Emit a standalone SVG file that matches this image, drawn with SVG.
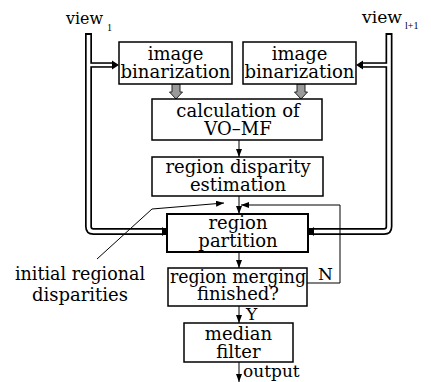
<svg xmlns="http://www.w3.org/2000/svg" width="431" height="382" viewBox="0 0 431 382">
<style>
.box{fill:#fff;stroke:#000;stroke-width:1.5}
.box2{fill:#fff;stroke:#000;stroke-width:2}
.t{font-family:"DejaVu Serif","Liberation Serif",serif;font-size:18px;fill:#000;text-anchor:middle}
.tl{font-family:"DejaVu Serif","Liberation Serif",serif;font-size:17px;fill:#000}
.tv{font-family:"DejaVu Serif","Liberation Serif",serif;font-size:16px;fill:#000}
.sub{font-family:"Liberation Serif","DejaVu Serif",serif;font-size:10px;fill:#000}
.ln{fill:none;stroke:#000;stroke-width:1}
.pb{fill:none;stroke:#000;stroke-width:7}
.pw{fill:none;stroke:#fff;stroke-width:3.6}
.bb{fill:none;stroke:#000;stroke-width:5.5}
.bw{fill:none;stroke:#fff;stroke-width:2.4}
.grey{fill:#9a9a9a;stroke:#222;stroke-width:1}
</style>
<defs>
<marker id="ah" markerUnits="userSpaceOnUse" markerWidth="8" markerHeight="6" refX="8" refY="3" orient="auto">
<path d="M0,0 L8,3 L0,6 z" fill="#000"/>
</marker>
</defs>
<rect width="431" height="382" fill="#fff"/>
<g id="connectors">
<path class="pb" d="M88.5,33 V226.5 Q88.5,231.5 93.5,231.5 H166"/>
<path class="bb" d="M88.5,65 H114"/>
<path class="pb" d="M389,33 V226.5 Q389,231.5 384,231.5 H309"/>
<path class="bb" d="M389,65 H360"/>
<path class="pw" d="M88.5,35 V226.5 Q88.5,231.5 93.5,231.5 H164"/>
<path class="bw" d="M88.5,65 H113"/>
<path class="pw" d="M389,35 V226.5 Q389,231.5 384,231.5 H311"/>
<path class="bw" d="M389,65 H361"/>
<path d="M112,60.5 L119,65 L112,69.5 z" fill="#000"/>
<path d="M363,60.5 L356,65 L363,69.5 z" fill="#000"/>
<path d="M162,227 L168,231.5 L162,236 z" fill="#000"/>
<path d="M314,227 L308,231.5 L314,236 z" fill="#000"/>
<path class="grey" d="M172,84 H180 V92 H182.5 L176,99 L169.5,92 H172 z"/>
<path class="grey" d="M297,84 H305 V92 H307.5 L301,99 L294.5,92 H297 z"/>
<path class="ln" d="M239,140 V157" marker-end="url(#ah)"/>
<path class="ln" d="M239,196 V214" marker-end="url(#ah)"/>
<path class="ln" d="M239,252 V268" marker-end="url(#ah)"/>
<path class="ln" d="M239,306 V323" marker-end="url(#ah)"/>
<path class="ln" d="M239,362 V382" marker-end="url(#ah)"/>
<path class="ln" d="M307,283 H340 V205 H241" marker-end="url(#ah)"/>
<path class="ln" d="M97,259 L152,209 L224,203" marker-end="url(#ah)"/>
</g>
<g id="view1"><text class="tv" x="66" y="24" textLength="37" lengthAdjust="spacingAndGlyphs">view</text><text class="sub" x="107" y="31">1</text></g>
<g id="viewl1"><text class="tv" x="362" y="23" textLength="40" lengthAdjust="spacingAndGlyphs">view</text><text class="sub" x="405" y="29">l+1</text></g>
<g id="bin1"><rect class="box" x="119" y="42" width="113" height="42"/><text class="t" x="175.5" y="60">image</text><text class="t" x="175.5" y="78" textLength="110" lengthAdjust="spacingAndGlyphs">binarization</text></g>
<g id="bin2"><rect class="box" x="243" y="42" width="113" height="42"/><text class="t" x="299.5" y="60">image</text><text class="t" x="299.5" y="78" textLength="110" lengthAdjust="spacingAndGlyphs">binarization</text></g>
<g id="calc"><rect class="box" x="152" y="99" width="170" height="41"/><text class="t" x="238" y="117">calculation of</text><text class="t" x="238" y="135">VO–MF</text></g>
<g id="disp"><rect class="box" x="152" y="157" width="171" height="39"/><text class="t" x="238" y="173">region disparity</text><text class="t" x="238" y="191">estimation</text></g>
<g id="part"><rect class="box2" x="167" y="214" width="141" height="38"/><text class="t" x="238" y="229">region</text><text class="t" x="238" y="247">partition</text></g>
<g id="merge"><rect class="box" x="168" y="268" width="139" height="38"/><text class="t" x="238" y="283" textLength="136" lengthAdjust="spacingAndGlyphs">region merging</text><text class="t" x="238" y="300">finished?</text></g>
<g id="median"><rect class="box" x="184" y="323" width="109" height="39"/><text class="t" x="238.5" y="340">median</text><text class="t" x="238.5" y="358">filter</text></g>
<g id="labels">
<text class="tl" x="243" y="377">output</text>
<text class="tl" x="246" y="320">Y</text>
<text class="tl" x="318" y="280">N</text>
<text class="t" x="80" y="280" textLength="130" lengthAdjust="spacingAndGlyphs">initial regional</text>
<text class="t" x="80" y="301">disparities</text>
</g>
</svg>
